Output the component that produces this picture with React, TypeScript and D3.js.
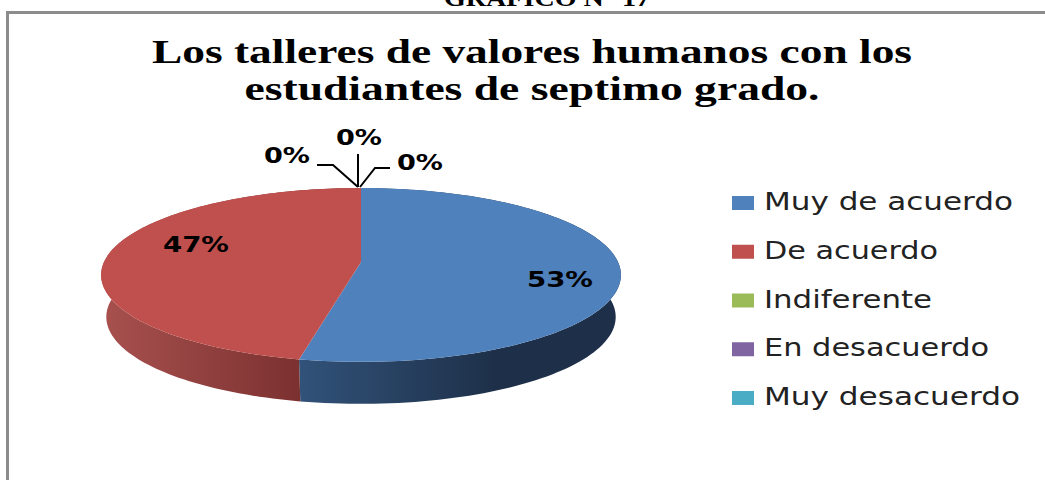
import React from "react";
import * as d3 from "d3";

const categories = ["Muy de acuerdo", "De acuerdo", "Indiferente", "En desacuerdo", "Muy desacuerdo"];
const values = [53.3, 46.7, 0, 0, 0];
const colors = ["#4f81bd", "#c0504d", "#9bbb59", "#8064a2", "#4bacc6"];
const titleLines = ["Los talleres de valores humanos con los", "estudiantes de septimo grado."];

const width = 1045;
const height = 480;

// pie geometry, tilted with a bit of perspective like the Excel 3D pie
const cx = 361;
const cy = 262;
const radiusX = 257;
const radiusY = 85;
const persp = 0.149;
const depth = 42;
const bottomShrink = 0.98; // lower rim is a little narrower than the top one

const project = (angle: number, dy = 0, shrink = 1): [number, number] => {
  const u = Math.sin(angle);
  const v = Math.cos(angle);
  const w = 1 + persp * v;
  return [cx + (radiusX * shrink * u) / w, cy - (radiusY * v) / w + dy];
};

const line = d3.line();
const pieGen = d3.pie<number>().sort(null);
const slices = pieGen(values);
const total = d3.sum(values);
const pct = (v: number) => `${Math.round((v / total) * 100)}%`;

const arcPoints = (start: number, end: number, dy = 0, shrink = 1) =>
  d3.range(0, 121).map((i) => project(start + ((end - start) * i) / 120, dy, shrink));

const topPath = (start: number, end: number) => line([[cx, cy], ...arcPoints(start, end)]) + "Z";

const wallPath = (start: number, end: number) =>
  line([...arcPoints(start, end), ...arcPoints(start, end, depth, bottomShrink).reverse()]) + "Z";

const legendY = d3.scalePoint<string>().domain(categories).range([201, 396]);

// label spots: the two real slices sit on the pie, the empty ones use leader lines
const labelSpots = [
  { x: 560, y: 287, w: 66 },
  { x: 196, y: 252, w: 66 },
  { x: 420, y: 170, w: 46 },
  { x: 359, y: 145, w: 46 },
  { x: 287, y: 163, w: 46 },
];

const App = () => (
  <svg width={width} height={height} style={{ position: "absolute", left: 0, top: 0, background: "#fff" }}>
    <defs>
      <linearGradient id="wall0" gradientUnits="userSpaceOnUse" x1={300} x2={560} y1={0} y2={0}>
        <stop offset="0" stopColor="#315279" />
        <stop offset="0.75" stopColor="#1e3049" />
        <stop offset="1" stopColor="#1e3049" />
      </linearGradient>
      <linearGradient id="wall1" gradientUnits="userSpaceOnUse" x1={102} x2={300} y1={0} y2={0}>
        <stop offset="0" stopColor="#a8514f" />
        <stop offset="1" stopColor="#7b3130" />
      </linearGradient>
    </defs>

    <text
      x={547}
      y={6}
      textAnchor="middle"
      fontFamily="Liberation Serif"
      fontWeight="bold"
      fontSize={24}
      textLength={206}
      lengthAdjust="spacingAndGlyphs"
    >
      GRÁFICO N° 17
    </text>

    <path d="M7.5,480V12.5H1045" fill="none" stroke="#8c8c8c" strokeWidth={3} />

    {titleLines.map((t, i) => (
      <text
        key={t}
        x={532}
        y={63 + i * 37}
        textAnchor="middle"
        fontFamily="Liberation Serif"
        fontWeight="bold"
        fontSize={33}
        textLength={i === 0 ? 760 : 575}
        lengthAdjust="spacingAndGlyphs"
      >
        {t}
      </text>
    ))}

    {slices.filter((s) => s.value > 0).map((s) => (
      <path key={"wall" + s.index} d={wallPath(s.startAngle, s.endAngle)} fill={`url(#wall${s.index})`} />
    ))}
    {slices.filter((s) => s.value > 0).map((s) => (
      <path key={"top" + s.index} d={topPath(s.startAngle, s.endAngle)} fill={colors[s.index]} />
    ))}

    <g fill="none" stroke="#000" strokeWidth={2}>
      <path d="M317,165H333L358,187" />
      <path d="M358,154V187" />
      <path d="M390,168H375L360,187" />
    </g>

    <g fontFamily="DejaVu Sans" fontWeight="bold" fontSize={22} textAnchor="middle">
      {values.map((v, i) => (
        <text key={categories[i]} x={labelSpots[i].x} y={labelSpots[i].y} textLength={labelSpots[i].w} lengthAdjust="spacingAndGlyphs">
          {pct(v)}
        </text>
      ))}
    </g>

    {categories.map((c, i) => (
      <g key={c}>
        <rect x={732} y={(legendY(c) as number) - 5} width={22} height={14} fill={colors[i]} />
        <text
          x={764}
          y={(legendY(c) as number) + 9}
          fontFamily="DejaVu Sans"
          fontSize={24}
          fill="#222"
          textLength={[249, 174, 168, 225, 256][i]}
          lengthAdjust="spacingAndGlyphs"
        >
          {c}
        </text>
      </g>
    ))}
  </svg>
);

export default App;
